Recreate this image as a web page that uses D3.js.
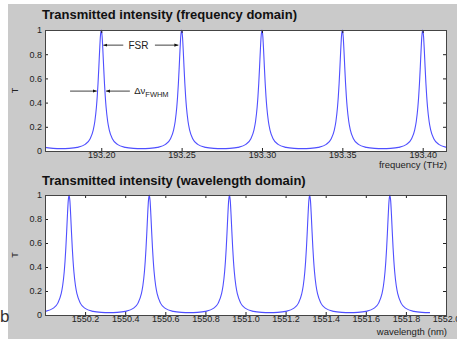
<!DOCTYPE html>
<html>
<head>
<meta charset="utf-8">
<script src="https://cdn.jsdelivr.net/npm/d3@7"></script>
<style>
  html, body { margin: 0; padding: 0; background: #fff; }
  svg { display: block; font-family: "Liberation Sans", Arial, sans-serif; }
</style>
</head>
<body>
<svg id="chart" width="457" height="339"></svg>
<script>
// resonance centres; 193.15 sits just left of the top panel
const freqPeaks = [193.15, 193.20, 193.25, 193.30, 193.35, 193.40];
const wavePeaks = [1550.12, 1550.52, 1550.92, 1551.32, 1551.72];
const freqFsr = 0.05;
const waveFsr = 0.4;

// one resonance: offset from its centre (in FSR) and the transmission read there
const profileOffset = [-0.5, -0.4, -0.3, -0.2, -0.14, -0.1, -0.08, -0.06, -0.05, -0.04, -0.03, -0.02, -0.01, 0,
  0.01, 0.02, 0.03, 0.04, 0.05, 0.06, 0.08, 0.1, 0.14, 0.2, 0.3, 0.4, 0.5];
const profileT = [0.020, 0.022, 0.030, 0.055, 0.099, 0.173, 0.244, 0.363, 0.45, 0.56, 0.693, 0.835, 0.953, 1,
  0.953, 0.835, 0.693, 0.56, 0.45, 0.363, 0.244, 0.173, 0.099, 0.055, 0.030, 0.022, 0.020];

const freqDomain = [193.165, 193.4145];
const waveDomain = [1550.0, 1552.0];
const freqTicks = [193.20, 193.25, 193.30, 193.35, 193.40];
const waveTicks = [1550.2, 1550.4, 1550.6, 1550.8, 1551.0, 1551.2, 1551.4, 1551.6, 1551.8, 1552.0];
const tTicks = [0, 0.2, 0.4, 0.6, 0.8, 1];

const plotLeft = 45;
const plotRight = 446;

const svg = d3.select('#chart');

svg.append('rect')
  .attr('x', 8).attr('y', 4)
  .attr('width', 457 - 8).attr('height', 339 - 4)
  .attr('fill', '#cacaca');

svg.append('text')
  .attr('x', 0).attr('y', 322)
  .attr('font-size', 17)
  .attr('fill', '#333')
  .text('b');

const defs = svg.append('defs');
defs.append('marker')
  .attr('id', 'arrow')
  .attr('viewBox', '0 0 10 10')
  .attr('refX', 10).attr('refY', 5)
  .attr('markerWidth', 5).attr('markerHeight', 5)
  .attr('orient', 'auto-start-reverse')
  .append('path')
  .attr('d', 'M0,1 L10,5 L0,9 Z')
  .attr('fill', '#111');

function buildSeries(peaks, fsr) {
  const pts = [];
  peaks.forEach((p, i) => {
    profileOffset.forEach((o, j) => {
      if (i > 0 && j === 0) return;
      pts.push([p + o * fsr, profileT[j]]);
    });
  });
  return pts;
}

function drawPanel(cfg) {
  const x = d3.scaleLinear().domain(cfg.domain).range([plotLeft, plotRight]);
  const y = d3.scaleLinear().domain([0, 1]).range([cfg.bottom, cfg.top]);
  const g = svg.append('g');

  g.append('rect')
    .attr('x', plotLeft).attr('y', cfg.top)
    .attr('width', plotRight - plotLeft).attr('height', cfg.bottom - cfg.top)
    .attr('fill', '#fff');

  const clipId = 'clip-' + cfg.id;
  defs.append('clipPath').attr('id', clipId)
    .append('rect')
    .attr('x', plotLeft).attr('y', cfg.top - 1)
    .attr('width', plotRight - plotLeft).attr('height', cfg.bottom - cfg.top + 1);

  const line = d3.line()
    .x(d => x(d[0]))
    .y(d => y(d[1]))
    .curve(d3.curveMonotoneX);

  g.append('path')
    .datum(cfg.series)
    .attr('clip-path', `url(#${clipId})`)
    .attr('fill', 'none')
    .attr('stroke', '#4f4fff')
    .attr('stroke-width', 1.1)
    .attr('d', line);

  const styleAxis = sel => {
    sel.select('.domain').remove();
    sel.selectAll('line').attr('stroke', '#222');
    sel.selectAll('text').attr('fill', '#222').attr('font-size', 9).attr('font-family', 'Liberation Sans, Arial, sans-serif');
  };

  g.append('g')
    .attr('transform', `translate(0,${cfg.bottom})`)
    .call(d3.axisBottom(x).tickValues(cfg.ticks).tickSize(-3).tickPadding(1).tickFormat(cfg.format))
    .call(styleAxis);
  g.append('g')
    .attr('transform', `translate(0,${cfg.top})`)
    .call(d3.axisTop(x).tickValues(cfg.ticks).tickSize(-3).tickFormat(''))
    .call(styleAxis);
  g.append('g')
    .attr('transform', `translate(${plotLeft},0)`)
    .call(d3.axisLeft(y).tickValues(tTicks).tickSize(-3).tickPadding(3).tickFormat(d3.format('~g')))
    .call(styleAxis);
  g.append('g')
    .attr('transform', `translate(${plotRight},0)`)
    .call(d3.axisRight(y).tickValues(tTicks).tickSize(-3).tickFormat(''))
    .call(styleAxis);

  g.append('rect')
    .attr('x', plotLeft + 0.5).attr('y', cfg.top + 0.5)
    .attr('width', plotRight - plotLeft).attr('height', cfg.bottom - cfg.top)
    .attr('fill', 'none')
    .attr('stroke', '#444')
    .attr('stroke-width', 1);

  g.append('text')
    .attr('x', 42).attr('y', cfg.titleY)
    .attr('font-size', 13)
    .attr('font-weight', 'bold')
    .attr('fill', '#111')
    .text(cfg.title);

  g.append('text')
    .attr('x', 447).attr('y', cfg.xlabelY)
    .attr('text-anchor', 'end')
    .attr('font-size', 9.5)
    .attr('fill', '#222')
    .text(cfg.xlabel);

  g.append('text')
    .attr('transform', `translate(18,${(cfg.top + cfg.bottom) / 2}) rotate(-90)`)
    .attr('text-anchor', 'middle')
    .attr('font-size', 9)
    .attr('fill', '#222')
    .text('T');

  return { x, y, g };
}

const freqPanel = drawPanel({
  id: 'freq', top: 30, bottom: 151,
  domain: freqDomain, ticks: freqTicks, format: d3.format('.2f'),
  series: buildSeries(freqPeaks, freqFsr),
  title: 'Transmitted intensity (frequency domain)', titleY: 19,
  xlabel: 'frequency (THz)', xlabelY: 168
});

drawPanel({
  id: 'wave', top: 195, bottom: 315,
  domain: waveDomain, ticks: waveTicks, format: d3.format('.1f'),
  series: buildSeries(wavePeaks, waveFsr),
  title: 'Transmitted intensity (wavelength domain)', titleY: 185,
  xlabel: 'wavelength (nm)', xlabelY: 335
});

// FSR and FWHM annotations, in data units of the top panel
const fsrT = 0.875;
const fsrLeft = [193.2013, 193.2137];
const fsrRight = [193.2334, 193.2480];
const fsrLabelAt = 193.2231;
const fwhmT = 0.495;
const fwhmLeft = [193.1806, 193.1972];
const fwhmRight = [193.2030, 193.2178];
const fwhmLabelAt = 193.2205;

const ax = freqPanel.x, ay = freqPanel.y, ag = freqPanel.g;
const arrow = (from, to, t) => ag.append('line')
  .attr('x1', ax(from)).attr('x2', ax(to))
  .attr('y1', ay(t)).attr('y2', ay(t))
  .attr('stroke', '#111').attr('stroke-width', 0.8)
  .attr('marker-end', 'url(#arrow)');

arrow(fsrLeft[1], fsrLeft[0], fsrT);
arrow(fsrRight[0], fsrRight[1], fsrT);
ag.append('text')
  .attr('x', ax(fsrLabelAt)).attr('y', ay(fsrT) + 3.5)
  .attr('text-anchor', 'middle')
  .attr('font-size', 10)
  .attr('fill', '#222')
  .text('FSR');

arrow(fwhmLeft[0], fwhmLeft[1], fwhmT);
arrow(fwhmRight[1], fwhmRight[0], fwhmT);
const fw = ag.append('text')
  .attr('x', ax(fwhmLabelAt)).attr('y', ay(fwhmT) + 3)
  .attr('font-size', 9.5)
  .attr('fill', '#222');
fw.append('tspan').text('\u0394\u03bd');
fw.append('tspan').attr('dy', 3).attr('font-size', 7.5).text('FWHM');
</script>
</body>
</html>
